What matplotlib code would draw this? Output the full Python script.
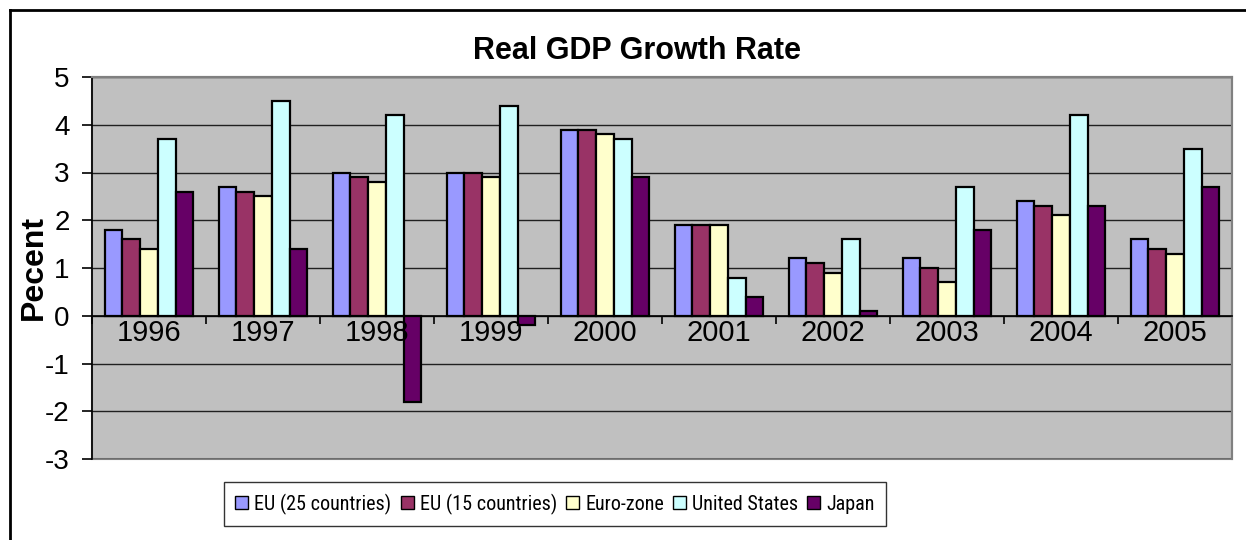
import matplotlib
matplotlib.use("Agg")
import matplotlib.pyplot as plt
from matplotlib.patches import Patch, Rectangle
from matplotlib.lines import Line2D
from matplotlib import font_manager
import numpy as np

plt.rcParams['font.family'] = ['Liberation Sans', 'DejaVu Sans']

years = ["1996", "1997", "1998", "1999", "2000", "2001", "2002", "2003", "2004", "2005"]
series_names = ["EU (25 countries)", "EU (15 countries)", "Euro-zone", "United States", "Japan"]
eu25 = [1.8, 2.7, 3.0, 3.0, 3.9, 1.9, 1.2, 1.2, 2.4, 1.6]
eu15 = [1.6, 2.6, 2.9, 3.0, 3.9, 1.9, 1.1, 1.0, 2.3, 1.4]
eurozone = [1.4, 2.5, 2.8, 2.9, 3.8, 1.9, 0.9, 0.7, 2.1, 1.3]
usa = [3.7, 4.5, 4.2, 4.4, 3.7, 0.8, 1.6, 2.7, 4.2, 3.5]
japan = [2.6, 1.4, -1.8, -0.2, 2.9, 0.4, 0.1, 1.8, 2.3, 2.7]
colors = ["#9999FF", "#993366", "#FFFFCC", "#CCFFFF", "#660066"]
series = [eu25, eu15, eurozone, usa, japan]

installed = {f.name for f in font_manager.fontManager.ttflist}
legend_font = 'Liberation Sans'
for cand in ['Liberation Sans Narrow', 'Arial Narrow', 'Roboto Condensed', 'Archivo Narrow', 'PT Sans Narrow']:
    if cand in installed:
        legend_font = cand
        break
legend_size = 14.5 if legend_font != 'Liberation Sans' else 13.5

W, H = 1246, 540
fig = plt.figure(figsize=(W / 100, H / 100), dpi=100)
fig.patch.set_facecolor("white")

# outer chart border (left and top visible)
fig.add_artist(Line2D([10 / W, 10 / W], [0, 1 - 10 / H], color="black", lw=2, transform=fig.transFigure))
fig.add_artist(Line2D([10 / W, 1], [1 - 10 / H, 1 - 10 / H], color="black", lw=2, transform=fig.transFigure))

left, right, top, bottom = 92, 1232, 77, 459
ax = fig.add_axes([left / W, 1 - bottom / H, (right - left) / W, (bottom - top) / H])
ax.set_facecolor("#C0C0C0")

n = len(years)
x = np.arange(n)
group_w = 0.78
bw = group_w / len(series)
for k, (vals, c, name) in enumerate(zip(series, colors, series_names)):
    offs = -group_w / 2 + bw * (k + 0.5)
    ax.bar(x + offs, vals, width=bw, color=c, edgecolor="black", linewidth=1.6, label=name, zorder=3)

ax.set_xlim(-0.5, n - 0.5)
ax.set_ylim(-3, 5)
ax.set_yticks(range(-3, 6))
ax.set_yticklabels([str(v) for v in range(-3, 6)], fontsize=20)
ax.yaxis.grid(True, color="#202020", linewidth=1.0, zorder=1)
ax.set_axisbelow(True)

# category axis at zero
ax.spines['bottom'].set_position(('data', 0))
ax.spines['bottom'].set_color("black")
ax.spines['bottom'].set_linewidth(1.2)
ax.spines['bottom'].set_zorder(4)
ax.set_xticks(np.arange(-0.5, n, 1.0))
ax.set_xticklabels([])
ax.tick_params(axis='x', direction='out', length=6, width=1.2, color="black")
ax.tick_params(axis='y', direction='out', length=7, width=1.2, color="black", pad=9)
for s in ['top', 'right']:
    ax.spines[s].set_color("#808080")
    ax.spines[s].set_linewidth(1.5)
ax.spines['left'].set_color("black")
ax.spines['left'].set_linewidth(1.2)
ax.add_patch(Rectangle((0, 0), 1, 1, transform=ax.transAxes, fill=False,
                       edgecolor="#808080", linewidth=1.5, zorder=0.5, clip_on=False))

for i, yl in enumerate(years):
    ax.text(i, -0.37, yl, ha="center", va="center", fontsize=21, zorder=5)

fig.text(34 / W, 1 - 268 / H, "Pecent", rotation=90, ha="center", va="center",
         fontsize=23, fontweight="bold")

fig.text(637 / W, 1 - 51 / H, "Real GDP Growth Rate", ha="center", va="center",
         fontsize=22, fontweight="bold")

handles = [Patch(facecolor=c, edgecolor="black", linewidth=1.0) for c in colors]
leg = fig.legend(handles, series_names, loc="center", bbox_to_anchor=(555 / W, 1 - 504 / H),
                 ncol=5, prop={'family': legend_font, 'size': legend_size}, frameon=True,
                 fancybox=False, edgecolor="black", handlelength=0.65, handleheight=0.65,
                 handletextpad=0.3, columnspacing=0.45, borderpad=0.55, borderaxespad=0)
leg.get_frame().set_linewidth(1.0)

fig.savefig("out.png", dpi=100)
